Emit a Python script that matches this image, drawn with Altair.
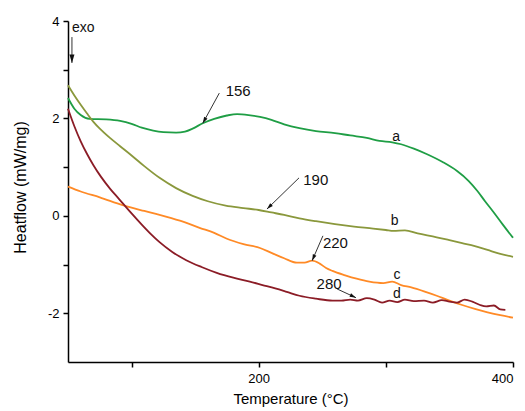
import math
import altair as alt
import pandas as pd

# ---- data ----
temp_a = [50, 55, 60, 67, 80, 91, 100, 108, 117, 125, 135, 142, 148, 156, 165, 175, 183, 192, 201,
          210, 220, 232, 245, 260, 272, 285, 295, 305, 312, 322, 332, 345, 356, 365, 372, 378, 384, 392, 400]
heat_a = [2.42, 2.20, 2.07, 1.99, 1.98, 1.95, 1.89, 1.81, 1.75, 1.72, 1.71, 1.73, 1.79, 1.90, 1.99,
          2.06, 2.09, 2.07, 2.03, 1.97, 1.88, 1.80, 1.74, 1.70, 1.65, 1.60, 1.54, 1.51, 1.47, 1.38, 1.27,
          1.10, 0.92, 0.72, 0.51, 0.30, 0.10, -0.18, -0.45]

temp_b = [50, 55, 60, 65, 70, 75, 83, 91, 100, 110, 122, 135, 148, 160, 174, 188, 200, 210, 220,
          232, 245, 260, 275, 290, 300, 306, 315, 325, 340, 350, 360, 370, 380, 390, 400]
heat_b = [2.68, 2.47, 2.28, 2.10, 1.93, 1.79, 1.60, 1.43, 1.24, 1.02, 0.78, 0.57, 0.41, 0.30, 0.21,
          0.16, 0.12, 0.07, 0.02, -0.05, -0.11, -0.17, -0.22, -0.26, -0.29, -0.31, -0.30, -0.36, -0.44,
          -0.50, -0.56, -0.62, -0.70, -0.78, -0.84]

temp_c = [50, 60, 75, 93, 110, 122, 138, 154, 165, 175, 188, 201, 210, 220, 230, 236, 242, 248,
          253, 258, 268, 277, 287, 298, 305, 312, 320, 330, 340, 350, 360, 370, 380, 390, 400]
heat_c = [0.60, 0.50, 0.38, 0.22, 0.10, 0.02, -0.10, -0.25, -0.35, -0.47, -0.58, -0.66,
          -0.76, -0.87, -0.96, -0.96, -0.92, -0.98, -1.07, -1.13, -1.22, -1.29, -1.35, -1.38, -1.35,
          -1.42, -1.47, -1.55, -1.64, -1.74, -1.83, -1.91, -1.98, -2.04, -2.09]

temp_d = [50, 55, 60, 65, 70, 76, 83, 90, 94, 100, 108, 115, 122, 132, 143, 155, 167, 180, 193, 203,
          213, 222, 232, 245, 258, 265, 272, 278, 285, 291, 297, 303, 309, 315, 322, 330, 337, 344,
          350, 356, 362, 368, 374, 379, 385, 390, 394]
heat_d = [2.20, 1.84, 1.53, 1.27, 1.04, 0.80, 0.56, 0.35, 0.23, 0.05, -0.18, -0.37, -0.54, -0.74,
          -0.91, -1.05, -1.17, -1.27, -1.35, -1.42, -1.49, -1.56, -1.64, -1.70, -1.74, -1.74, -1.72,
          -1.74, -1.69, -1.72, -1.78, -1.74, -1.77, -1.72, -1.75, -1.74, -1.78, -1.73, -1.76, -1.78,
          -1.72, -1.76, -1.83, -1.86, -1.84, -1.92, -1.93]

series_names = ["a", "b", "c", "d"]
series_colors = ["#1f9e45", "#8a983c", "#ff8a26", "#8b1c26"]

# annotations
ann_text = ["156", "190", "220", "280"]
ann_tx = [174, 235, 250.5, 245.5]
ann_ty = [2.56, 0.74, -0.55, -1.39]
arrow_x1 = [169, 231.7, 250.5, 261.6, 53.1]
arrow_y1 = [2.52, 0.78, -0.41, -1.50, 3.67]
arrow_x2 = [156, 206.5, 242, 276.5, 53.1]
arrow_y2 = [1.90, 0.14, -0.92, -1.68, 3.14]
arrow_size = [40, 40, 40, 40, 70]

letter_text = ["a", "b", "c", "d"]
letter_x = [308, 307, 308.7, 308.7]
letter_y = [1.62, -0.10, -1.21, -1.60]

exo_x = [53.1]
exo_y = [3.86]
exo_label = ["exo"]

# ---- build tables ----
rows = []
for name, xs_, ys_ in zip(series_names, [temp_a, temp_b, temp_c, temp_d], [heat_a, heat_b, heat_c, heat_d]):
    for t, h in zip(xs_, ys_):
        rows.append({"series": name, "T": t, "H": h})
df = pd.DataFrame(rows)

W, H = 445, 341
XMIN, XMAX, YMIN, YMAX = 50, 400, -3, 4
kx = W / (XMAX - XMIN)
ky = H / (YMAX - YMIN)

arr = []
for x1, y1, x2, y2, s in zip(arrow_x1, arrow_y1, arrow_x2, arrow_y2, arrow_size):
    dx = (x2 - x1) * kx
    dy = -(y2 - y1) * ky
    ang = math.degrees(math.atan2(dx, -dy)) % 360
    arr.append({"x1": x1, "y1": y1, "x2": x2, "y2": y2, "ang": ang, "s": s})
arr_df = pd.DataFrame(arr)

ann_df = pd.DataFrame({"t": ann_text, "x": ann_tx, "y": ann_ty})
let_df = pd.DataFrame({"t": letter_text, "x": letter_x, "y": letter_y})
exo_df = pd.DataFrame({"t": exo_label, "x": exo_x, "y": exo_y})

FONT = "Liberation Sans"
xs = alt.Scale(domain=[XMIN, XMAX], nice=False, zero=False)
ys = alt.Scale(domain=[YMIN, YMAX], nice=False, zero=False)

lines = alt.Chart(df).mark_line(strokeWidth=1.8, interpolate="monotone").encode(
    x=alt.X("T:Q", scale=xs, title="Temperature (°C)",
            axis=alt.Axis(values=[100, 200, 300, 400],
                          labelExpr="datum.value % 200 == 0 ? '' + datum.value : ''",
                          titlePadding=6, labelPadding=5)),
    y=alt.Y("H:Q", scale=ys, title="Heatflow (mW/mg)",
            axis=alt.Axis(values=[-2, -1, 0, 1, 2, 3, 4],
                          labelExpr="datum.value % 2 == 0 ? '' + datum.value : ''",
                          labelPadding=4, titleX=-48, titleY=166, titleBaseline="middle",
                          titleFontSize=16)),
    color=alt.Color("series:N", scale=alt.Scale(domain=series_names, range=series_colors), legend=None),
    detail="series:N",
    order="T:Q",
)

rules = alt.Chart(arr_df).mark_rule(color="#333333", strokeWidth=1).encode(
    x=alt.X("x1:Q", scale=xs), y=alt.Y("y1:Q", scale=ys),
    x2="x2:Q", y2="y2:Q")

heads = alt.Chart(arr_df).mark_point(
    shape="M0,0L-0.6,2L0.6,2Z", filled=True, color="#111111", opacity=1, strokeWidth=0
).encode(
    x=alt.X("x2:Q", scale=xs), y=alt.Y("y2:Q", scale=ys),
    angle=alt.Angle("ang:Q", scale=None),
    size=alt.Size("s:Q", scale=None),
)

ann = alt.Chart(ann_df).mark_text(align="left", baseline="middle", font=FONT, fontSize=15, color="#111111").encode(
    x=alt.X("x:Q", scale=xs), y=alt.Y("y:Q", scale=ys), text="t:N")

lets = alt.Chart(let_df).mark_text(align="center", baseline="middle", font=FONT, fontSize=14, color="#111111").encode(
    x=alt.X("x:Q", scale=xs), y=alt.Y("y:Q", scale=ys), text="t:N")

exo = alt.Chart(exo_df).mark_text(align="left", baseline="middle", font=FONT, fontSize=14, color="#111111").encode(
    x=alt.X("x:Q", scale=xs), y=alt.Y("y:Q", scale=ys), text="t:N")

chart = alt.layer(lines, rules, heads, ann, lets, exo).properties(
    width=W, height=H,
    autosize=alt.AutoSizeParams(type="none"),
    padding={"left": 60, "top": 13, "right": 4, "bottom": 50},
).configure_view(stroke=None).configure_axis(
    grid=False, domainColor="black", domainWidth=1.5, tickColor="black", tickWidth=1.5, tickSize=5,
    labelFont=FONT, labelFontSize=13, labelColor="black",
    titleFont=FONT, titleFontSize=15, titleFontWeight="normal", titleColor="black",
)

chart.save("out.html", embed_options={"renderer": "svg", "actions": False})
